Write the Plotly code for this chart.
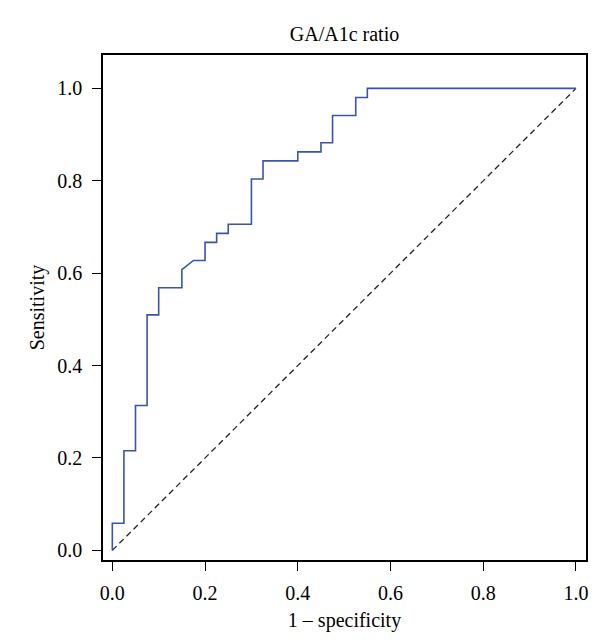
import plotly.graph_objects as go

# ROC curve vertices (1 - specificity, sensitivity)
fpr = [0.0, 0.0, 0.025, 0.025, 0.05, 0.05, 0.075, 0.075, 0.1, 0.1, 0.15, 0.15,
       0.175, 0.2, 0.2, 0.225, 0.225, 0.25, 0.25, 0.3, 0.3, 0.325, 0.325,
       0.4, 0.4, 0.45, 0.45, 0.475, 0.475, 0.525, 0.525, 0.55, 0.55, 1.0]
tpr = [0.0, 0.0588, 0.0588, 0.2157, 0.2157, 0.3137, 0.3137, 0.5098, 0.5098, 0.5686,
       0.5686, 0.6078, 0.6275, 0.6275, 0.6667, 0.6667, 0.6863, 0.6863, 0.7059,
       0.7059, 0.8039, 0.8039, 0.8431, 0.8431, 0.8627, 0.8627, 0.8824, 0.8824,
       0.9412, 0.9412, 0.9804, 0.9804, 1.0, 1.0]

ref_x = [0.0, 1.0]
ref_y = [0.0, 1.0]

tick_vals = [0.0, 0.2, 0.4, 0.6, 0.8, 1.0]
tick_text = ["0.0", "0.2", "0.4", "0.6", "0.8", "1.0"]

FONT = "Liberation Serif, Times New Roman, serif"
FS = 20

fig = go.Figure()
fig.add_trace(go.Scatter(x=ref_x, y=ref_y, mode="lines",
                         line=dict(color="#222222", width=1.3, dash="6px,4px"),
                         hoverinfo="skip", showlegend=False))
fig.add_trace(go.Scatter(x=fpr, y=tpr, mode="lines",
                         line=dict(color="#3a55a8", width=1.6),
                         showlegend=False))

axis_common = dict(showline=True, linecolor="black", linewidth=1.5, mirror=True,
                   ticks="outside", ticklen=9, tickwidth=1.3, tickcolor="black",
                   showgrid=False, zeroline=False,
                   tickvals=tick_vals, ticktext=tick_text,
                   tickfont=dict(family=FONT, size=FS, color="black"))

fig.update_layout(
    width=600, height=644,
    plot_bgcolor="white", paper_bgcolor="white",
    margin=dict(l=95, r=22, t=47, b=92),
    title=dict(text="GA/A1c ratio", x=(95 + 578) / 2 / 600, xanchor="center",
               y=1 - 26 / 644, yanchor="middle", yref="container",
               font=dict(family=FONT, size=FS, color="black")),
    xaxis=dict(range=[-0.0201, 1.0216], ticklabelstandoff=5,
               title=dict(text="1 \u2013 specificity", standoff=10,
                          font=dict(family=FONT, size=FS, color="black")),
               **axis_common),
    yaxis=dict(range=[-0.0208, 1.0723], ticklabelstandoff=6,
               title=dict(text="Sensitivity", standoff=7,
                          font=dict(family=FONT, size=FS, color="black")),
               **axis_common),
)

fig.write_html("out.html")
